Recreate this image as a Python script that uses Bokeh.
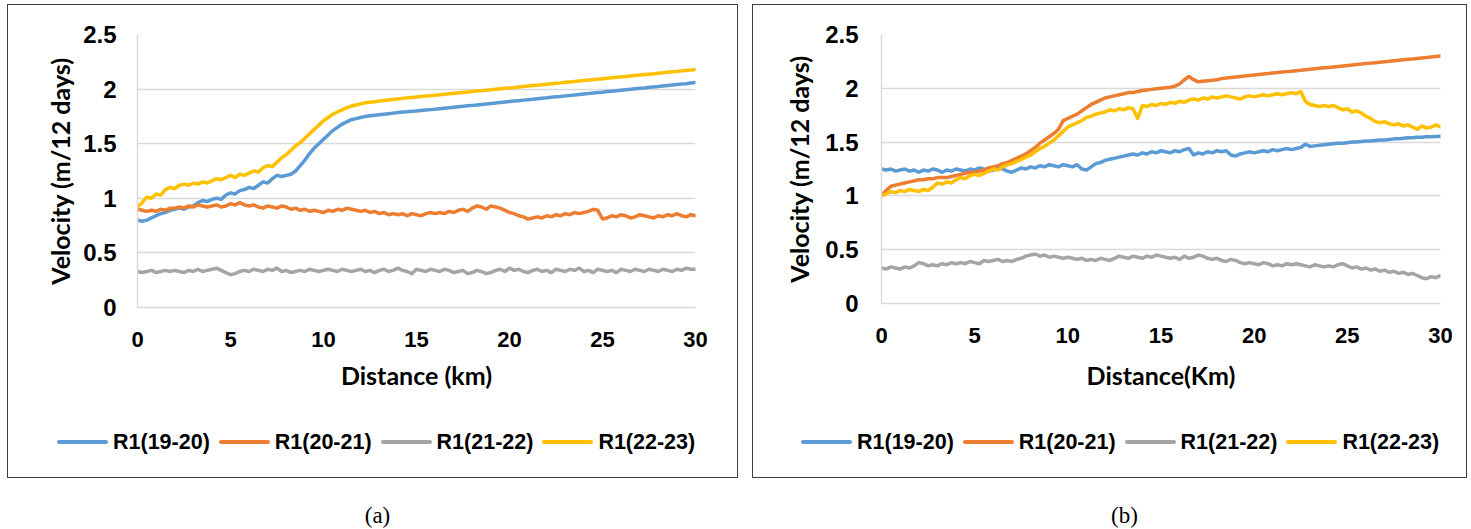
import numpy as np
from bokeh.plotting import figure
from bokeh.models import Range1d, FixedTicker, Div
from bokeh.layouts import row, column
from bokeh.embed import file_html
from bokeh.resources import INLINE

# ---------------- data ----------------
distance_km = np.linspace(0, 30, 121)  # 0.25 km sampling grid

series_names = ["R1(19-20)", "R1(20-21)", "R1(21-22)", "R1(22-23)"]
series_colors = ["#5B9BD5", "#ED7D31", "#A5A5A5", "#FFC000"]

y_ticks = [0, 0.5, 1, 1.5, 2, 2.5]
y_tick_labels = ["0", "0.5", "1", "1.5", "2", "2.5"]
x_ticks = [0, 5, 10, 15, 20, 25, 30]

# panel (a)
a_r1_19_20 = [
    0.80, 0.79, 0.80, 0.82, 0.84, 0.86, 0.87, 0.89,
    0.90, 0.91, 0.90, 0.92, 0.93, 0.96, 0.98, 0.97,
    0.99, 1.00, 0.99, 1.03, 1.05, 1.04, 1.07, 1.08,
    1.10, 1.09, 1.12, 1.15, 1.14, 1.18, 1.21, 1.20,
    1.21, 1.22, 1.25, 1.30, 1.35, 1.41, 1.46, 1.50,
    1.54, 1.58, 1.62, 1.65, 1.68, 1.70, 1.72, 1.73,
    1.74, 1.75, 1.755, 1.76, 1.765, 1.77, 1.775, 1.78,
    1.785, 1.79, 1.793, 1.797, 1.80, 1.804, 1.808, 1.812,
    1.816, 1.821, 1.825, 1.829, 1.834, 1.838, 1.842, 1.847,
    1.851, 1.855, 1.86, 1.864, 1.868, 1.873, 1.877, 1.881,
    1.886, 1.89, 1.894, 1.899, 1.903, 1.907, 1.912, 1.916,
    1.92, 1.925, 1.929, 1.933, 1.938, 1.942, 1.946, 1.951,
    1.955, 1.959, 1.964, 1.968, 1.972, 1.977, 1.981, 1.985,
    1.99, 1.994, 1.998, 2.003, 2.007, 2.011, 2.016, 2.02,
    2.024, 2.029, 2.033, 2.037, 2.042, 2.046, 2.05, 2.055,
    2.06,
]
a_r1_20_21 = [
    0.90, 0.89, 0.88, 0.89, 0.88, 0.90, 0.89, 0.91,
    0.91, 0.92, 0.91, 0.93, 0.92, 0.94, 0.93, 0.92,
    0.93, 0.94, 0.92, 0.93, 0.95, 0.94, 0.96, 0.94,
    0.93, 0.94, 0.92, 0.91, 0.93, 0.92, 0.91, 0.93,
    0.92, 0.90, 0.91, 0.89, 0.90, 0.88, 0.89, 0.88,
    0.87, 0.89, 0.88, 0.90, 0.89, 0.91, 0.90, 0.89,
    0.88, 0.89, 0.87, 0.88, 0.86, 0.87, 0.85, 0.86,
    0.85, 0.86, 0.84, 0.86, 0.85, 0.84, 0.86, 0.87,
    0.86, 0.87, 0.86, 0.88, 0.87, 0.89, 0.90, 0.88,
    0.91, 0.93, 0.92, 0.90, 0.93, 0.92, 0.91, 0.89,
    0.87, 0.86, 0.84, 0.83, 0.81, 0.82, 0.83, 0.82,
    0.84, 0.83, 0.85, 0.84, 0.86, 0.85, 0.87, 0.86,
    0.87, 0.88, 0.90, 0.89, 0.81, 0.82, 0.84, 0.83,
    0.85, 0.84, 0.82, 0.83, 0.85, 0.84, 0.83, 0.82,
    0.84, 0.83, 0.85, 0.84, 0.86, 0.84, 0.83, 0.85,
    0.84,
]
a_r1_21_22 = [
    0.33, 0.32, 0.33, 0.34, 0.32, 0.33, 0.34, 0.33,
    0.34, 0.33, 0.32, 0.34, 0.33, 0.35, 0.33, 0.34,
    0.35, 0.36, 0.34, 0.32, 0.30, 0.31, 0.33, 0.34,
    0.33, 0.35, 0.34, 0.33, 0.35, 0.34, 0.36, 0.33,
    0.34, 0.32, 0.33, 0.34, 0.33, 0.35, 0.34, 0.33,
    0.34, 0.35, 0.34, 0.33, 0.35, 0.34, 0.33, 0.34,
    0.35, 0.33, 0.34, 0.32, 0.34, 0.35, 0.33, 0.34,
    0.36, 0.34, 0.33, 0.31, 0.35, 0.34, 0.33, 0.35,
    0.34, 0.33, 0.35, 0.34, 0.32, 0.33, 0.34, 0.31,
    0.32, 0.34, 0.33, 0.31, 0.32, 0.34, 0.35, 0.33,
    0.36, 0.34, 0.35, 0.33, 0.32, 0.34, 0.35, 0.33,
    0.34, 0.32, 0.35, 0.34, 0.33, 0.35, 0.34, 0.36,
    0.33, 0.34, 0.32, 0.35, 0.34, 0.33, 0.34, 0.32,
    0.35, 0.34, 0.33, 0.35, 0.34, 0.33, 0.35, 0.34,
    0.33, 0.35, 0.34, 0.33, 0.35, 0.34, 0.36, 0.35,
    0.35,
]
a_r1_22_23 = [
    0.92, 0.96, 1.01, 1.00, 1.04, 1.03, 1.08, 1.10,
    1.09, 1.12, 1.13, 1.12, 1.14, 1.13, 1.15, 1.14,
    1.16, 1.18, 1.17, 1.19, 1.21, 1.19, 1.22, 1.21,
    1.23, 1.25, 1.24, 1.28, 1.30, 1.29, 1.33, 1.37,
    1.40, 1.44, 1.48, 1.51, 1.55, 1.59, 1.63, 1.67,
    1.71, 1.74, 1.77, 1.79, 1.81, 1.83, 1.845, 1.855,
    1.865, 1.875, 1.88, 1.885, 1.89, 1.895, 1.90, 1.905,
    1.91, 1.915, 1.92, 1.924, 1.928, 1.932, 1.936, 1.94,
    1.944, 1.948, 1.953, 1.957, 1.961, 1.965, 1.969, 1.973,
    1.978, 1.982, 1.986, 1.99, 1.994, 1.999, 2.003, 2.007,
    2.011, 2.015, 2.02, 2.024, 2.028, 2.032, 2.036, 2.04,
    2.045, 2.049, 2.053, 2.057, 2.062, 2.066, 2.07, 2.074,
    2.078, 2.083, 2.087, 2.091, 2.095, 2.099, 2.104, 2.108,
    2.112, 2.116, 2.12, 2.125, 2.129, 2.133, 2.137, 2.141,
    2.146, 2.15, 2.154, 2.158, 2.162, 2.167, 2.171, 2.175,
    2.18,
]

# panel (b)
b_r1_19_20 = [
    1.25, 1.24, 1.25, 1.23, 1.24, 1.25, 1.23, 1.24,
    1.22, 1.24, 1.23, 1.25, 1.24, 1.22, 1.24, 1.23,
    1.25, 1.24, 1.23, 1.25, 1.24, 1.26, 1.25, 1.23,
    1.24, 1.26, 1.25, 1.23, 1.22, 1.24, 1.26, 1.25,
    1.27, 1.26, 1.28, 1.27, 1.29, 1.28, 1.27, 1.29,
    1.28, 1.27, 1.29, 1.25, 1.24, 1.27, 1.30, 1.31,
    1.33, 1.34, 1.35, 1.36, 1.37, 1.38, 1.39, 1.38,
    1.40, 1.39, 1.41, 1.40, 1.42, 1.41, 1.40, 1.42,
    1.41, 1.43, 1.44, 1.38, 1.40, 1.39, 1.41, 1.40,
    1.42, 1.41, 1.42, 1.38, 1.37, 1.39, 1.40, 1.41,
    1.40, 1.41, 1.42, 1.41, 1.43, 1.42, 1.43, 1.44,
    1.43, 1.44, 1.45, 1.48, 1.46, 1.465, 1.47, 1.475,
    1.48, 1.485, 1.49, 1.49, 1.495, 1.50, 1.50, 1.505,
    1.51, 1.51, 1.515, 1.52, 1.52, 1.525, 1.53, 1.53,
    1.535, 1.54, 1.54, 1.545, 1.545, 1.55, 1.55, 1.553,
    1.555,
]
b_r1_20_21 = [
    1.00, 1.05, 1.09, 1.10, 1.11, 1.12, 1.13, 1.14,
    1.15, 1.15, 1.16, 1.16, 1.17, 1.17, 1.17, 1.18,
    1.19, 1.20, 1.21, 1.22, 1.22, 1.23, 1.24, 1.26,
    1.27, 1.28, 1.30, 1.31, 1.33, 1.35, 1.37, 1.39,
    1.42, 1.45, 1.49, 1.52, 1.55, 1.58, 1.62, 1.70,
    1.72, 1.74, 1.76, 1.79, 1.82, 1.85, 1.87, 1.89,
    1.91, 1.92, 1.93, 1.94, 1.95, 1.96, 1.96, 1.97,
    1.98, 1.985, 1.99, 1.995, 2.00, 2.005, 2.01, 2.02,
    2.04, 2.08, 2.11, 2.08, 2.06, 2.065, 2.07, 2.075,
    2.08, 2.09, 2.095, 2.10, 2.105, 2.11, 2.115, 2.12,
    2.124, 2.129, 2.133, 2.137, 2.142, 2.146, 2.151, 2.155,
    2.159, 2.164, 2.168, 2.173, 2.177, 2.181, 2.186, 2.19,
    2.194, 2.199, 2.203, 2.208, 2.212, 2.216, 2.221, 2.225,
    2.23, 2.234, 2.238, 2.243, 2.247, 2.251, 2.256, 2.26,
    2.265, 2.269, 2.273, 2.278, 2.282, 2.286, 2.291, 2.295,
    2.30,
]
b_r1_21_22 = [
    0.33, 0.32, 0.34, 0.33, 0.32, 0.34, 0.33, 0.35,
    0.38, 0.37, 0.35, 0.36, 0.35, 0.37, 0.36, 0.38,
    0.37, 0.38, 0.37, 0.39, 0.38, 0.37, 0.40, 0.39,
    0.40, 0.41, 0.39, 0.40, 0.39, 0.41, 0.42, 0.44,
    0.45, 0.46, 0.44, 0.45, 0.43, 0.44, 0.43, 0.42,
    0.43, 0.42, 0.41, 0.42, 0.40, 0.41, 0.40, 0.42,
    0.41, 0.40, 0.42, 0.44, 0.43, 0.42, 0.44, 0.43,
    0.42, 0.44, 0.43, 0.45, 0.44, 0.43, 0.42, 0.43,
    0.41, 0.44, 0.42, 0.43, 0.45, 0.44, 0.42, 0.41,
    0.42, 0.40, 0.39, 0.41, 0.40, 0.38, 0.37, 0.38,
    0.37, 0.36, 0.38, 0.37, 0.35, 0.36, 0.35, 0.37,
    0.36, 0.37, 0.36, 0.35, 0.34, 0.36, 0.35, 0.34,
    0.35, 0.34, 0.36, 0.37, 0.35, 0.33, 0.34, 0.32,
    0.33, 0.31, 0.32, 0.30, 0.31, 0.29, 0.30, 0.28,
    0.29, 0.27, 0.28, 0.26, 0.24, 0.23, 0.25, 0.24,
    0.26,
]
b_r1_22_23 = [
    1.00, 1.02, 1.04, 1.03, 1.05, 1.04, 1.06, 1.05,
    1.04, 1.06, 1.05, 1.08, 1.12, 1.11, 1.13, 1.12,
    1.15, 1.17, 1.16, 1.19, 1.20, 1.19, 1.21, 1.23,
    1.25, 1.24, 1.27, 1.29, 1.30, 1.32, 1.34, 1.36,
    1.38, 1.41, 1.44, 1.46, 1.49, 1.52, 1.56, 1.60,
    1.64, 1.66, 1.68, 1.70, 1.73, 1.74, 1.76, 1.77,
    1.78, 1.80, 1.79, 1.81, 1.80, 1.82, 1.81, 1.72,
    1.84, 1.83, 1.85, 1.84, 1.86, 1.85, 1.87, 1.86,
    1.88, 1.87, 1.89, 1.90, 1.89, 1.91, 1.90, 1.92,
    1.91, 1.92, 1.93, 1.92, 1.91, 1.90, 1.92, 1.93,
    1.92, 1.93, 1.94, 1.93, 1.94, 1.95, 1.94, 1.95,
    1.96, 1.95, 1.97, 1.88, 1.85, 1.84, 1.83, 1.84,
    1.83, 1.84, 1.82, 1.80, 1.81, 1.78, 1.79, 1.77,
    1.74, 1.72, 1.69, 1.68, 1.69, 1.67, 1.66, 1.67,
    1.65, 1.66, 1.64, 1.62, 1.65, 1.63, 1.64, 1.66,
    1.64,
]

TICK_FONT = "Liberation Sans"
TITLE_FONT = "Lato"
GRID = "#D9D9D9"
LINE_W = 3.5


def legend_div(width, pad_left):
    parts = []
    for name, color in zip(series_names, series_colors):
        parts.append(
            f"<span style=\"display:inline-flex;align-items:center;margin-right:9px\">"
            f"<span style=\"display:inline-block;width:51px;height:4px;border-radius:2px;"
            f"background:{color};margin-right:5px\"></span>"
            f"<span style=\"font-family:'Liberation Sans',Arial,sans-serif;font-weight:bold;"
            f"font-size:21.5px;color:black;line-height:24px\">{name}</span></span>")
    html = (f"<div style=\"width:{width}px;height:72px;box-sizing:border-box;"
            f"padding-top:25px;padding-left:{pad_left}px;white-space:nowrap;"
            f"display:flex;align-items:flex-start\">" + "".join(parts) + "</div>")
    return Div(text=html, width=width, height=72, margin=0)


def make_panel(series, x_title, width, mb_left, mb_right, mb_bottom,
               ytick_standoff, ytitle_standoff, xtitle_standoff, legend_pad):
    p = figure(width=width, height=400, output_backend="svg", toolbar_location=None,
               x_range=Range1d(0, 30), y_range=Range1d(0, 2.5),
               min_border_left=mb_left, min_border_right=mb_right,
               min_border_top=29, min_border_bottom=mb_bottom,
               background_fill_color="white", border_fill_color="white",
               outline_line_color=None)
    p.xgrid.visible = False
    p.ygrid.grid_line_color = GRID
    p.ygrid.grid_line_width = 1.5
    p.ygrid.ticker = FixedTicker(ticks=y_ticks)

    for ax in (p.xaxis[0], p.yaxis[0]):
        ax.axis_line_color = GRID
        ax.axis_line_width = 1.5
        ax.major_tick_line_color = None
        ax.minor_tick_line_color = None
        ax.major_label_text_font = TICK_FONT
        ax.major_label_text_font_style = "bold"
        ax.major_label_text_color = "black"
        ax.axis_label_text_font = TITLE_FONT
        ax.axis_label_text_font_style = "bold"
        ax.axis_label_text_color = "black"
        ax.axis_label_text_font_size = "25px"

    p.xaxis.ticker = FixedTicker(ticks=x_ticks)
    p.xaxis.major_label_text_font_size = "22px"
    p.xaxis.major_label_standoff = 18
    p.xaxis.axis_label = x_title
    p.xaxis.axis_label_standoff = xtitle_standoff

    p.yaxis.ticker = FixedTicker(ticks=y_ticks)
    p.yaxis.major_label_overrides = {float(t): s for t, s in zip(y_ticks, y_tick_labels)}
    p.yaxis.major_label_text_font_size = "24px"
    p.yaxis.major_label_standoff = ytick_standoff
    p.yaxis.axis_label = "Velocity (m/12 days)"
    p.yaxis.axis_label_standoff = ytitle_standoff

    for color, vals in zip(series_colors, series):
        p.line(distance_km, vals, line_color=color, line_width=LINE_W,
               line_join="round", line_cap="round")

    return column(p, legend_div(width, legend_pad), spacing=0,
                  styles={"outline": "1.5px solid #404040"})


pa = make_panel([a_r1_19_20, a_r1_20_21, a_r1_21_22, a_r1_22_23], "Distance (km)",
                729, 129, 42, 98, 15, 5, 10, 49)
pb = make_panel([b_r1_19_20, b_r1_20_21, b_r1_21_22, b_r1_22_23], "Distance(Km)",
                713, 128, 26, 102, 17, 8, 14, 48)

cap_style = ("text-align:center;font-family:'Liberation Serif','Times New Roman',serif;"
             "font-size:23px;color:black;padding-top:18px;")
ca = Div(text=f"<div style=\"{cap_style}width:729px\">(a)</div>", width=729, height=40)
cb = Div(text=f"<div style=\"{cap_style}width:713px\">(b)</div>", width=713, height=40)

layout = column(row(pa, pb, spacing=16), row(ca, cb, spacing=16), spacing=0,
                margin=(5, 0, 0, 8))

open("out.html", "w").write(file_html(layout, INLINE))
